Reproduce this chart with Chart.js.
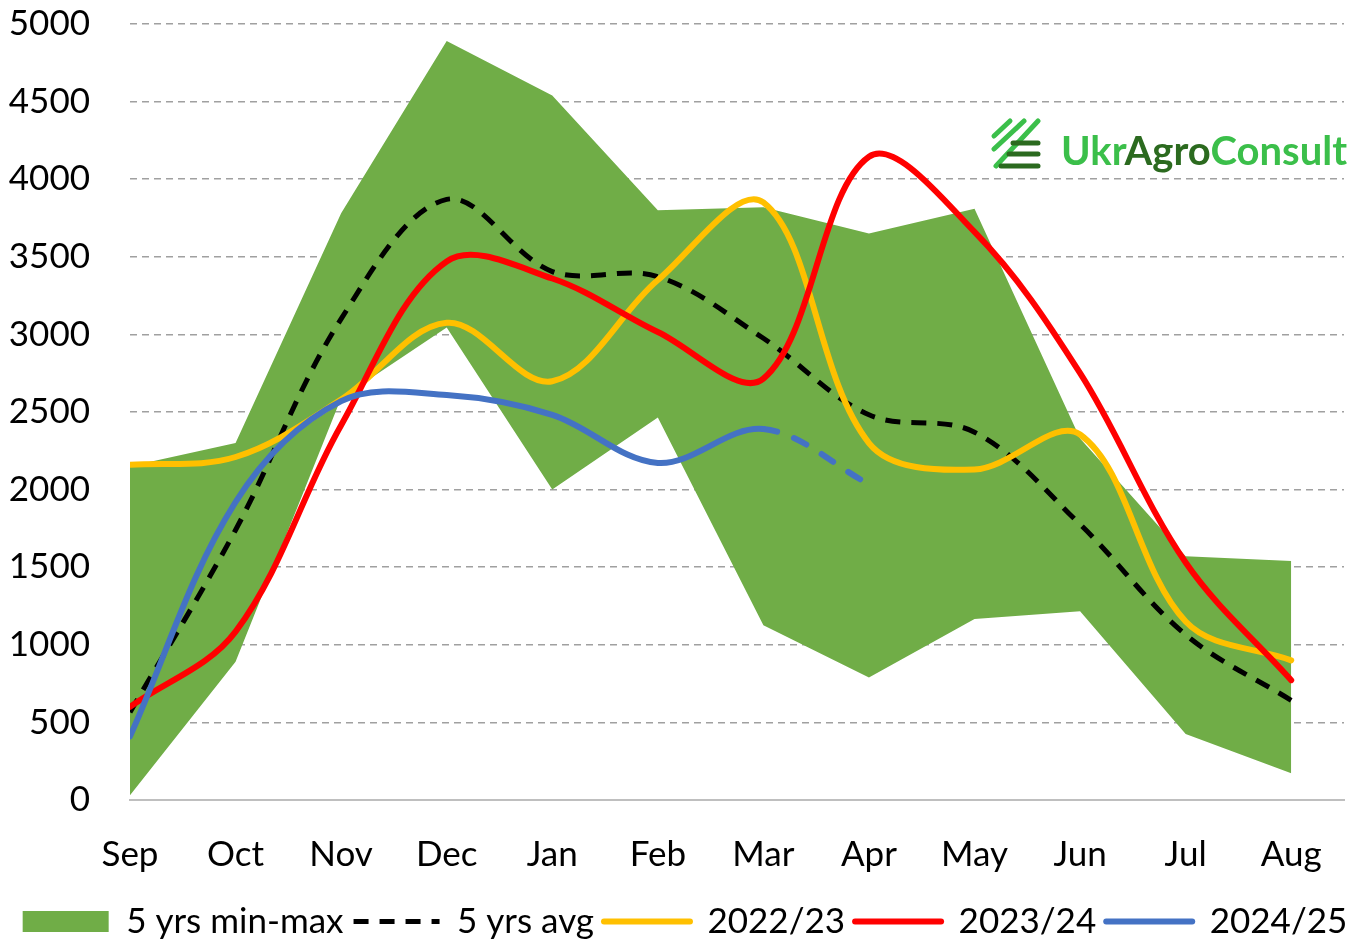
<!DOCTYPE html>
<html lang="en">
<head>
  <meta charset="UTF-8" />
  <title>5 yrs min-max vs seasons</title>
  <script src="https://cdn.jsdelivr.net/npm/chart.js"></script>
  <style>
    body {
      margin: 0;
      background: #ffffff;
    }
    .wrap {
      position: relative;
      width: 1370px;
      height: 945px;
    }
    .logo-icon {
      position: absolute;
      left: 0;
      top: 0;
      pointer-events: none;
    }
    .logo-text {
      position: absolute;
      left: 1061px;
      top: 130px;
      font-family: Lato, "Open Sans", sans-serif;
      font-weight: 700;
      font-size: 40px;
      line-height: 1;
      color: #3bbf4a;
      white-space: nowrap;
    }
    .logo-text .dark {
      color: #2b6a1f;
    }
  </style>
</head>
<body>
  <div class="wrap">
    <canvas id="chart"></canvas>
    <svg class="logo-icon" width="1370" height="945">
      <g stroke-width="5" stroke-linecap="round">
        <line x1="994" y1="136" x2="1010" y2="121" stroke="#3bbf4a" />
        <line x1="994" y1="149" x2="1024" y2="121" stroke="#3bbf4a" />
        <line x1="996" y1="166" x2="1038" y2="121" stroke="#3bbf4a" />
        <line x1="1013" y1="143" x2="1038" y2="143" stroke="#2b6a1f" />
        <line x1="1009" y1="154" x2="1038" y2="154" stroke="#2b6a1f" />
        <line x1="1001" y1="166" x2="1038" y2="166" stroke="#2b6a1f" />
      </g>
    </svg>
    <div class="logo-text">Ukr<span class="dark">Agro</span>Consult</div>
  </div>

  <script>
    const months = ["Sep", "Oct", "Nov", "Dec", "Jan", "Feb", "Mar", "Apr", "May", "Jun", "Jul", "Aug"];

    const bandMax = [2150, 2300, 3780, 4890, 4540, 3800, 3820, 3650, 3810, 2330, 1570, 1540];
    const bandMin = [30, 890, 2590, 3045, 2000, 2465, 1126, 790, 1166, 1216, 425, 172];
    const avg5 = [565, 1740, 3100, 3870, 3405, 3372, 2975, 2482, 2370, 1776, 1065, 642];
    const s2022 = [2160, 2210, 2580, 3075, 2698, 3350, 3850, 2300, 2130, 2355, 1150, 900];
    const s2023 = [600, 1085, 2415, 3470, 3360, 3015, 2715, 4145, 3660, 2750, 1530, 772];
    const s2024 = [410, 1920, 2570, 2610, 2482, 2172, 2390, 2035];

    const forecastFrom = 6; // Mar -> Apr is dashed

    const FONT = 'Lato, "Open Sans", sans-serif';

    // category index as x so the plot can run half a step past Aug
    const pts = arr => arr.map((v, i) => ({ x: i, y: v }));

    const lineSet = (label, data, color, order, extra) => Object.assign({
      label,
      data: pts(data),
      borderColor: color,
      backgroundColor: color,
      borderWidth: 6,
      borderCapStyle: 'round',
      pointRadius: 0,
      pointHoverRadius: 0,
      tension: 0.35,
      fill: false,
      order,
      legendStyle: 'line'
    }, extra || {});

    const datasets = [
      {
        label: '5 yrs min-max',
        data: pts(bandMax),
        borderWidth: 0,
        borderColor: 'rgba(0,0,0,0)',
        backgroundColor: '#70ad47',
        pointRadius: 0,
        tension: 0,
        fill: '+1',
        order: 6,
        legendStyle: 'rect'
      },
      {
        label: '',
        data: pts(bandMin),
        borderWidth: 0,
        borderColor: 'rgba(0,0,0,0)',
        backgroundColor: '#70ad47',
        pointRadius: 0,
        tension: 0,
        fill: false,
        order: 5
      },
      lineSet('5 yrs avg', avg5, '#000000', 4, { borderWidth: 5, borderDash: [15, 11], borderCapStyle: 'butt' }),
      lineSet('2022/23', s2022, '#ffc000', 3),
      lineSet('2023/24', s2023, '#ff0000', 2),
      lineSet('2024/25', s2024, '#4472c4', 1, {
        segment: {
          borderDash: ctx => ctx.p0DataIndex >= forecastFrom ? [14, 18] : undefined
        }
      })
    ];

    new Chart(document.getElementById('chart'), {
      type: 'line',
      data: { datasets },
      options: {
        responsive: true,
        maintainAspectRatio: false,
        animation: false,
        layout: {
          padding: { top: 24, right: 0, bottom: -4, left: 0 }
        },
        plugins: {
          tooltip: { enabled: false },
          legend: {
            position: 'bottom',
            labels: {
              color: '#000',
              font: { family: FONT, size: 35 },
              usePointStyle: true,
              pointStyleWidth: 86,
              boxHeight: 21,
              padding: 10,
              generateLabels: chart => chart.data.datasets
                .map((ds, i) => ({
                  text: ds.label,
                  fillStyle: ds.backgroundColor,
                  strokeStyle: ds.borderColor,
                  lineWidth: ds.borderWidth,
                  lineDash: ds.borderDash || [],
                  lineCap: ds.borderCapStyle || 'butt',
                  pointStyle: ds.legendStyle,
                  fontColor: '#000',
                  hidden: false,
                  datasetIndex: i
                }))
                .filter(item => item.text)
            }
          }
        },
        scales: {
          x: {
            type: 'linear',
            min: 0,
            max: 11.5,
            grid: { display: false, drawTicks: false },
            border: { display: true, color: '#bfbfbf', width: 2 },
            ticks: {
              stepSize: 1,
              includeBounds: false,
              autoSkip: false,
              maxRotation: 0,
              padding: 34,
              color: '#000',
              font: { family: FONT, size: 35 },
              callback: v => months[v] || ''
            },
            afterFit: scale => { scale.height = 94; }
          },
          y: {
            min: 0,
            max: 5000,
            grid: { color: '#a0a0a0', lineWidth: 1.4, drawTicks: false },
            border: { display: false, dash: [7, 5] },
            ticks: {
              stepSize: 500,
              padding: 40,
              color: '#000',
              font: { family: FONT, size: 35 },
              callback: v => String(v)
            },
            afterFit: scale => {
              scale.width = 130;
              // tick padding would otherwise push the plot top down
              scale.paddingTop = 0;
              scale.paddingBottom = 0;
            }
          },
          // empty right axis: keeps the plot ending half a month after Aug
          yRight: {
            position: 'right',
            min: 0,
            max: 5000,
            grid: { display: false, drawTicks: false },
            border: { display: false },
            ticks: { display: false },
            afterFit: scale => { scale.width = 26; }
          }
        }
      }
    });
  </script>
</body>
</html>
